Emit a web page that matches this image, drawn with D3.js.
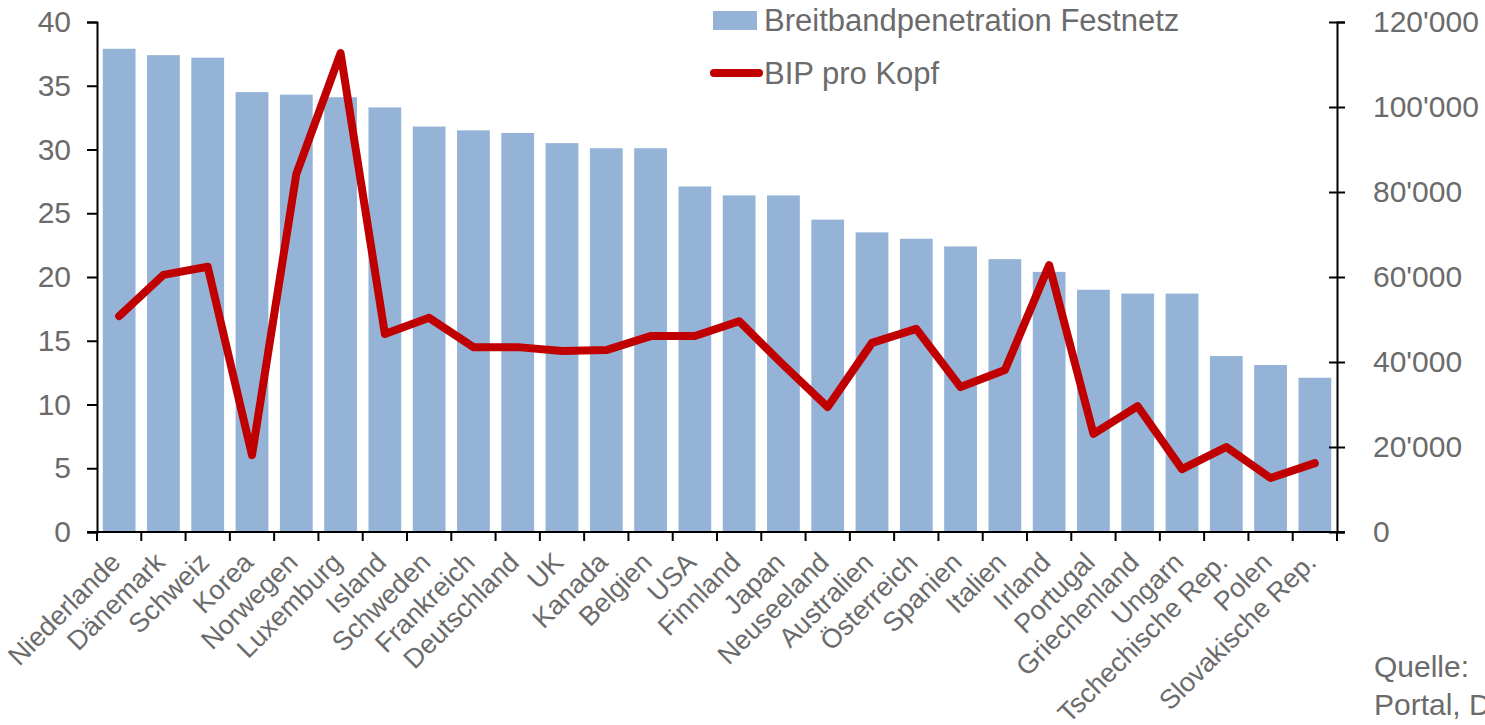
<!DOCTYPE html>
<html>
<head>
<meta charset="utf-8">
<script src="https://cdn.jsdelivr.net/npm/d3@7"></script>
<style>
  body { margin: 0; background: #fff; }
  svg text { font-family: "Liberation Sans", Arial, sans-serif; fill: #6b6b6b; }
</style>
</head>
<body>
<div id="chart"></div>
<script>
const countries = ["Niederlande", "Dänemark", "Schweiz", "Korea", "Norwegen", "Luxemburg", "Island",
  "Schweden", "Frankreich", "Deutschland", "UK", "Kanada", "Belgien", "USA", "Finnland", "Japan",
  "Neuseeland", "Australien", "Österreich", "Spanien", "Italien", "Irland", "Portugal", "Griechenland",
  "Ungarn", "Tschechische Rep.", "Polen", "Slovakische Rep."];
const broadband = [37.9, 37.4, 37.2, 34.5, 34.3, 34.1, 33.3, 31.8, 31.5, 31.3, 30.5, 30.1, 30.1, 27.1,
  26.4, 26.4, 24.5, 23.5, 23.0, 22.4, 21.4, 20.4, 19.0, 18.7, 18.7, 13.8, 13.1, 12.1];
const gdp = [50800, 60500, 62400, 18100, 84200, 112700, 46600, 50400, 43500, 43500, 42600, 42800, 46100,
  46100, 49600, 39300, 29400, 44500, 47800, 34100, 38100, 62800, 23100, 29600, 14800, 20000, 12700, 16200];
const left_ticks = [0, 5, 10, 15, 20, 25, 30, 35, 40];
const right_ticks = [0, 20000, 40000, 60000, 80000, 100000, 120000];
const legend_labels = ["Breitbandpenetration Festnetz", "BIP pro Kopf"];
const source_lines = ["Quelle:", "Portal, D"];

const width = 1485, height = 725;
const margin = { left: 97, right: 148, top: 22, bottom: 193 };
const inner_w = width - margin.left - margin.right;
const inner_h = height - margin.top - margin.bottom;
const bar_color = "#95b3d7";
const line_color = "#c00000";

const data = countries.map((c, i) => ({ country: c, bb: broadband[i], gdp: gdp[i] }));

const x = d3.scaleBand().domain(countries).range([0, inner_w]).paddingInner(0.26).paddingOuter(0.13);
const y_left = d3.scaleLinear().domain([0, 40]).range([inner_h, 0]);
const y_right = d3.scaleLinear().domain([0, 120000]).range([inner_h, 0]);

const svg = d3.select('#chart')
  .append('svg')
    .attr('width', width)
    .attr('height', height)
  .append('g')
    .attr('transform', `translate(${margin.left},${margin.top})`);

// Bars
svg.selectAll('.bar')
    .data(data)
  .join('rect')
    .attr('class', 'bar')
    .attr('x', d => x(d.country))
    .attr('y', d => y_left(d.bb))
    .attr('width', x.bandwidth())
    .attr('height', d => inner_h - y_left(d.bb))
    .attr('fill', bar_color);

// Left axis
const left_axis = svg.append('g')
  .call(d3.axisLeft(y_left).tickValues(left_ticks).tickSize(10).tickPadding(16));
// Right axis (cross ticks)
const right_axis = svg.append('g')
  .attr('transform', `translate(${inner_w},0)`)
  .call(d3.axisRight(y_right).tickValues(right_ticks).tickSize(8).tickPadding(28)
    .tickFormat(d => d3.format(",")(d).replace(/,/g, "'")));
right_axis.selectAll('.tick line').attr('x1', -8);

[left_axis, right_axis].forEach(a => {
  a.select('.domain').attr('stroke', '#000').attr('stroke-width', 2);
  a.selectAll('.tick line').attr('stroke', '#000').attr('stroke-width', 2);
  a.selectAll('.tick text')
    .style('font-size', '30px')
    .attr('fill', '#6b6b6b');
});

// Bottom axis with ticks at band boundaries
const bottom = svg.append('g').attr('transform', `translate(0,${inner_h})`);
bottom.append('line')
  .attr('x1', -10).attr('x2', inner_w + 8)
  .attr('stroke', '#000').attr('stroke-width', 2);
bottom.selectAll('.btick')
    .data(d3.range(countries.length + 1))
  .join('line')
    .attr('class', 'btick')
    .attr('x1', i => i * inner_w / countries.length)
    .attr('x2', i => i * inner_w / countries.length)
    .attr('y1', 0).attr('y2', 9)
    .attr('stroke', '#000').attr('stroke-width', 2);
bottom.selectAll('.blabel')
    .data(countries)
  .join('text')
    .attr('class', 'blabel')
    .attr('text-anchor', 'end')
    .style('font-size', '27px')
    .attr('transform', d => `translate(${x(d) + x.bandwidth() / 2 + 3},${32}) rotate(-45)`)
    .text(d => d);

// Line
const line = d3.line()
  .x(d => x(d.country) + x.bandwidth() / 2)
  .y(d => y_right(d.gdp));
svg.append('path')
  .datum(data)
  .attr('d', line)
  .attr('fill', 'none')
  .attr('stroke', line_color)
  .attr('stroke-width', 8)
  .attr('stroke-linejoin', 'round')
  .attr('stroke-linecap', 'round');

// Legend
const legend = d3.select('svg').append('g');
legend.append('rect')
  .attr('x', 713).attr('y', 11).attr('width', 44).attr('height', 19)
  .attr('fill', bar_color);
legend.append('line')
  .attr('x1', 714).attr('x2', 759).attr('y1', 73).attr('y2', 73)
  .attr('stroke', line_color).attr('stroke-width', 8).attr('stroke-linecap', 'round');
legend.selectAll('.ltext')
    .data(legend_labels)
  .join('text')
    .attr('class', 'ltext')
    .attr('x', 764)
    .attr('y', (d, i) => 31 + i * 53)
    .style('font-size', '31px')
    .text(d => d);

// Source
d3.select('svg').selectAll('.source')
    .data(source_lines)
  .join('text')
    .attr('class', 'source')
    .attr('x', 1374)
    .attr('y', (d, i) => 677 + i * 38)
    .style('font-size', '30px')
    .text(d => d);
</script>
</body>
</html>
